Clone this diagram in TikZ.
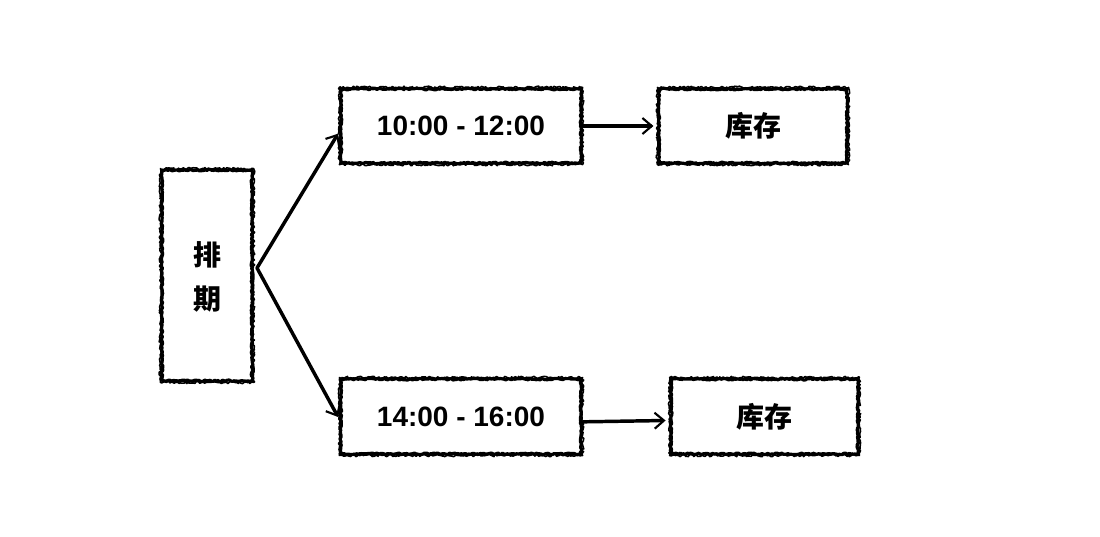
\documentclass[tikz,border=0pt]{standalone}
\usepackage{fontspec}
\setmainfont{Liberation Sans}
\newfontfamily\cjk{Noto Sans CJK SC}
\usetikzlibrary{decorations.pathmorphing,arrows.meta}
\begin{document}
\begin{tikzpicture}[x=0.75pt,y=-0.75pt,
  sk/.style={draw=black,line width=2.4pt,line join=round,line cap=round,decorate,decoration={random steps,segment length=1.2pt,amplitude=0.6pt}},
  boxsk/.style={sk,minimum width=#1,inner sep=0pt,font=\bfseries\fontsize{21}{23}\selectfont},
  cjkfont/.style={font=\bfseries\cjk\fontsize{21}{23}\selectfont},
  conn/.style={black,line width=2.6pt,line cap=round,-{Straight Barb[length=7pt,width=12pt,line width=1.6pt]}},
]
\pgfmathsetseed{7}
\useasboundingbox (0,0) rectangle (1100,536);
\node[boxsk=67.5pt,minimum height=158pt] (p) at (207,275.5) {};
\node[cjkfont,align=center] (pt) at (207,277) {排\\[10pt]期};
\node[boxsk=180pt,minimum height=55.5pt] (a) at (461,126) {10:00 - 12:00};
\node[boxsk=141pt,minimum height=55.5pt,cjkfont] (b) at (753,126) {库存};
\node[boxsk=180pt,minimum height=56pt] (c) at (461,416.5) {14:00 - 16:00};
\node[boxsk=140pt,minimum height=56pt,cjkfont] (d) at (764.5,416.5) {库存};
\foreach \n in {p,a,b,c,d}{
  \draw[sk,line width=1.2pt,decoration={amplitude=0.9pt}] (\n.south west) rectangle (\n.north east);
}
\coordinate (s) at (257,268);
\draw[conn] (s) -- ([xshift=-1pt,yshift=-2pt]a.west |- 0,131);
\draw[conn] (s) -- ([xshift=-1pt]c.west |- 0,417);
\draw[conn] (a.east) -- ([xshift=-3pt]b.west);
\draw[conn] ([yshift=-4pt]c.east) -- ([xshift=-3pt,yshift=-3pt]d.west);
\end{tikzpicture}
\end{document}
